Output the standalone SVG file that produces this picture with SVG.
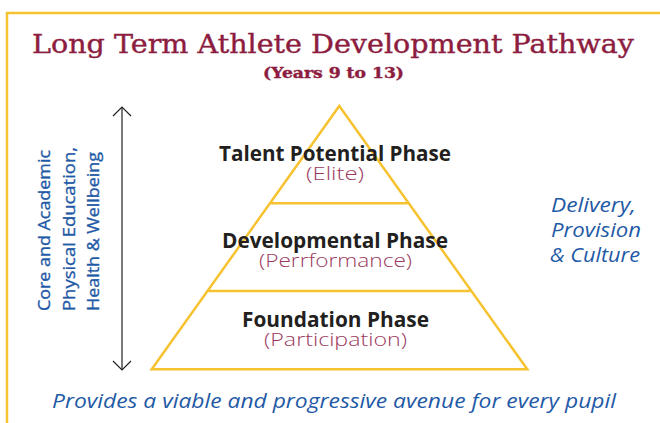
<svg xmlns="http://www.w3.org/2000/svg" width="660" height="423" viewBox="0 0 660 423">
<style>
.title{font-family:"DejaVu Serif","Liberation Serif",serif;fill:#8C1D40;stroke:#8C1D40;stroke-width:0.4}
.side{font-family:"Open Sans","Liberation Sans",sans-serif;fill:#1F5AA6;stroke:#1F5AA6;stroke-width:0.35;font-size:17px}
.blue{font-family:"Open Sans","Liberation Sans",sans-serif;fill:#1F5AA6;font-style:italic;font-size:20px}
.phase{font-family:"Open Sans","Liberation Sans",sans-serif;fill:#231F20;font-weight:bold;font-size:20.5px;text-anchor:middle}
.sub{font-family:"Open Sans","Liberation Sans",sans-serif;fill:#9B3A5E;font-weight:300;font-size:17.5px;text-anchor:middle}
.tri{fill:none;stroke:#F6C230;stroke-width:2.5;stroke-linejoin:miter}
</style>
<defs>
<marker id="chev" viewBox="0 0 20 20" refX="10" refY="10" markerWidth="20" markerHeight="20" markerUnits="userSpaceOnUse" orient="auto-start-reverse">
<path d="M1,1 L10,10 L1,19" fill="none" stroke="#231F20" stroke-width="1.2"/>
</marker>
</defs>
<rect width="660" height="423" fill="#FFFFFF"/>
<path d="M7,423 V13 H660" fill="none" stroke="#F6C230" stroke-width="2.5"/>
<g id="title">
<text class="title" x="333" y="53" font-size="25.5" text-anchor="middle" textLength="602" lengthAdjust="spacingAndGlyphs">Long Term Athlete Development Pathway</text>
<text class="title" x="333.5" y="78" font-size="15" font-weight="bold" text-anchor="middle" textLength="141" lengthAdjust="spacingAndGlyphs">(Years 9 to 13)</text>
</g>
<g id="side-labels">
<text class="side" transform="translate(50,311) rotate(-90)" textLength="161" lengthAdjust="spacingAndGlyphs">Core and Academic</text>
<text class="side" transform="translate(75,311) rotate(-90)" textLength="164" lengthAdjust="spacingAndGlyphs">Physical Education,</text>
<text class="side" transform="translate(99,311) rotate(-90)" textLength="159" lengthAdjust="spacingAndGlyphs">Health &amp; Wellbeing</text>
</g>
<g id="connectors">
<line x1="122" y1="107" x2="122" y2="370" stroke="#231F20" stroke-width="1.2" marker-start="url(#chev)" marker-end="url(#chev)"/>
</g>
<g id="pyramid">
<path class="tri" d="M339.3,106 L527.3,369.3 L151.7,369.3 Z"/>
<line class="tri" x1="270.7" y1="203.3" x2="407.9" y2="203.3"/>
<line class="tri" x1="208.3" y1="291" x2="470.3" y2="291"/>
</g>
<g id="talent">
<text class="phase" x="335" y="161" textLength="232" lengthAdjust="spacingAndGlyphs">Talent Potential Phase</text>
<text class="sub" x="335" y="180" textLength="58" lengthAdjust="spacingAndGlyphs">(Elite)</text>
</g>
<g id="developmental">
<text class="phase" x="335" y="248" textLength="226" lengthAdjust="spacingAndGlyphs">Developmental Phase</text>
<text class="sub" x="335.5" y="267" textLength="153" lengthAdjust="spacingAndGlyphs">(Perrformance)</text>
</g>
<g id="foundation">
<text class="phase" x="335.5" y="327" textLength="187" lengthAdjust="spacingAndGlyphs">Foundation Phase</text>
<text class="sub" x="335.5" y="346" textLength="143" lengthAdjust="spacingAndGlyphs">(Participation)</text>
</g>
<g id="delivery">
<text class="blue" x="551" y="212" textLength="85" lengthAdjust="spacingAndGlyphs">Delivery,</text>
<text class="blue" x="551" y="237" textLength="90" lengthAdjust="spacingAndGlyphs">Provision</text>
<text class="blue" x="550" y="262" textLength="90" lengthAdjust="spacingAndGlyphs">&amp; Culture</text>
</g>
<g id="footer">
<text class="blue" x="52" y="408" textLength="564" lengthAdjust="spacingAndGlyphs">Provides a viable and progressive avenue for every pupil</text>
</g>
</svg>
